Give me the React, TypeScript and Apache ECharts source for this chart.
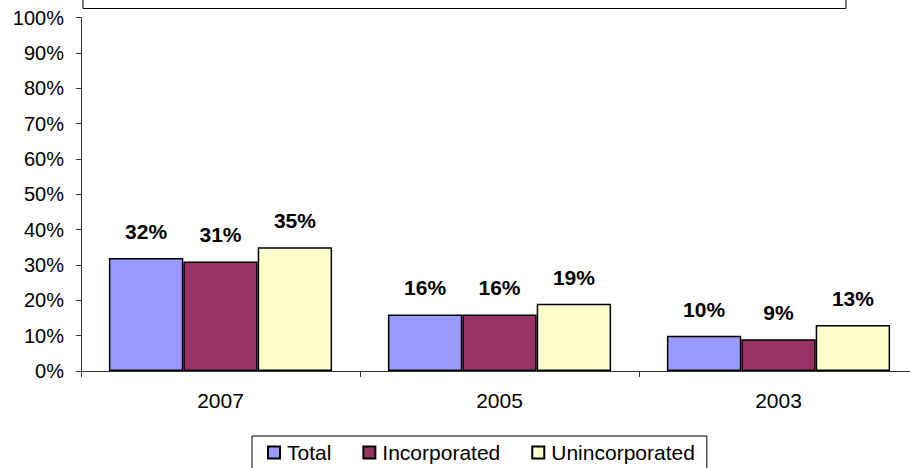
import React, { useEffect, useRef } from "react";
import * as echarts from "echarts";

const categories = ["2007", "2005", "2003"];
const seriesNames = ["Total", "Incorporated", "Unincorporated"];
const totalValues = [32, 16, 10];
const incorporatedValues = [31, 16, 9];
const unincorporatedValues = [35, 19, 13];
const colors = ["#9999FF", "#993366", "#FFFFCC"];

export default function App() {
  const ref = useRef<HTMLDivElement>(null);
  useEffect(() => {
    if (!ref.current) return;
    const chart = echarts.init(ref.current, null, { renderer: "svg" });
    const font = "Arial, 'Liberation Sans', sans-serif";
    const dataSets = [totalValues, incorporatedValues, unincorporatedValues];
    chart.setOption({
      animation: false,
      textStyle: { fontFamily: font },
      grid: {
        left: 81,
        top: 17.5,
        width: 837,
        height: 353.5,
        outerBoundsMode: "none",
        containLabel: false,
      },
      graphic: [
        {
          type: "rect",
          shape: { x: 83, y: -20, width: 763, height: 28.5 },
          style: { fill: "#fff", stroke: "#000", lineWidth: 1 },
        },
      ],
      legend: {
        left: 252,
        top: 436,
        orient: "horizontal",
        data: seriesNames,
        icon: "rect",
        itemWidth: 12,
        itemHeight: 12,
        itemGap: 31,
        padding: [6, 12, 12, 15],
        borderColor: "#000",
        borderWidth: 1,
        textStyle: {
          fontSize: 21,
          color: "#000",
          fontFamily: font,
          padding: [0, 0, 0, 2],
        },
      },
      xAxis: {
        type: "category",
        data: categories,
        axisLine: { lineStyle: { color: "#333", width: 1 } },
        axisTick: { show: true, length: 6, lineStyle: { color: "#333" } },
        axisLabel: { fontSize: 21, color: "#000", margin: 19, fontFamily: font },
        splitLine: { show: false },
      },
      yAxis: {
        type: "value",
        min: 0,
        max: 100,
        interval: 10,
        axisLine: { show: true, lineStyle: { color: "#333", width: 1 } },
        axisTick: { show: true, length: 5, lineStyle: { color: "#333" } },
        axisLabel: {
          fontSize: 20,
          color: "#000",
          margin: 17,
          formatter: "{value}%",
          fontFamily: font,
        },
        splitLine: { show: false },
      },
      series: seriesNames.map((name, i) => ({
        name,
        type: "bar",
        data: dataSets[i],
        barGap: "0%",
        barCategoryGap: "20%",
        itemStyle: { color: colors[i], borderColor: "#000", borderWidth: 1.5 },
        label: {
          show: true,
          position: "top",
          distance: 16,
          formatter: "{c}%",
          fontSize: 21,
          fontWeight: "bold",
          color: "#000",
          fontFamily: font,
        },
      })),
    });
    return () => chart.dispose();
  }, []);
  return (
    <div style={{ position: "absolute", left: 0, top: 0, width: 910, height: 468, overflow: "hidden" }}>
      <div ref={ref} style={{ width: 910, height: 468 }} />
    </div>
  );
}
